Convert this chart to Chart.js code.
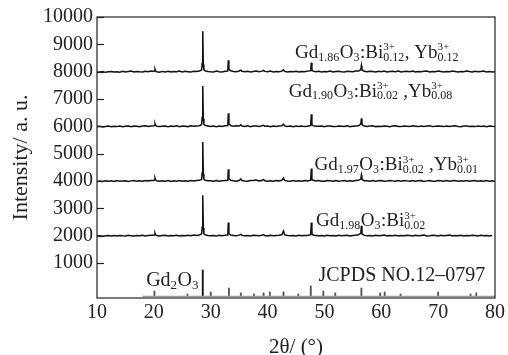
<!DOCTYPE html>
<html>
<head>
<meta charset="utf-8">
<script src="https://cdn.jsdelivr.net/npm/chart.js@4.4.1/dist/chart.umd.min.js"></script>
<style>
  html, body { margin: 0; padding: 0; background: #fff; }
  #wrap { width: 508px; height: 355px; }
</style>
</head>
<body>
<div id="wrap"><canvas id="c" width="508" height="355"></canvas></div>
<script>
// ---------------- DATA ----------------
const twoTheta = [
  10,10.5,11,11.5,12,12.5,13,13.5,14,14.5,15,15.5,16,16.5,17,17.5,18,18.5,19,19.5,20,
  20.1,20.2,20.3,
  20.5,21,21.5,22,22.5,23,23.5,24,24.5,25,25.5,26,26.5,27,27.5,28,
  28.4,28.5,28.6,28.7,28.8,
  29,29.5,30,30.5,31,31.5,32,32.5,33,
  33.1,33.2,
  33.5,34,34.5,35,
  35.3,
  35.5,36,36.5,37,37.5,38,38.5,39,
  39.3,
  39.5,40,40.5,41,41.5,42,42.5,
  42.8,
  43,43.5,44,44.5,45,45.5,46,46.5,47,47.5,
  47.6,47.7,47.8,
  48,48.5,49,49.5,50,50.5,51,51.5,52,52.5,53,53.5,54,54.5,55,55.5,56,
  56.4,56.5,56.6,
  57,57.5,58,58.5,59,59.5,60,60.5,61,61.5,62,62.5,63,63.5,64,64.5,65,65.5,66,66.5,67,67.5,68,68.5,69,69.5,70,70.5,71,71.5,72,72.5,73,73.5,74,74.5,75,75.5,76,76.5,77,77.5,78,78.5,79,79.5,80
];

const gd186 = [
  7975,7990,8005,7975,7995,8010,7985,8000,7980,8015,7990,8005,8020,7985,8010,7995,7990,8015,8000,8025,8005,
  8030,8090,8025,
  8000,7980,8010,7990,8015,7985,8010,7995,8020,7990,8015,8000,7985,8015,8005,8025,
  8060,8300,9480,8260,8070,
  8030,8010,7995,7990,8020,8000,7985,8015,8020,
  8420,8090,
  8030,8010,8000,8025,
  8055,
  8015,7995,8015,7990,8010,8020,7995,8020,
  8045,
  8010,7995,8020,7990,8005,7995,8020,
  8070,
  8010,7990,8010,7995,8015,7985,8010,7995,8020,8030,
  8110,8330,8060,
  8020,7995,8015,7990,8010,7995,8020,7985,8005,8015,7995,7990,8015,8005,7995,8020,8020,
  8070,8220,8060,
  8015,7995,8015,8005,7990,8015,7995,8020,7990,8010,8015,7995,8025,7990,8005,8015,7995,8020,7985,8010,7995,8015,8020,7990,8005,7995,8025,8010,7990,8010,7995,8020,8010,7985,8010,7995,8020,8005,7990,8015,7995,8010,8020,7990,8005,7985,8000
];

const gd190 = [
  5985,6000,5980,5995,6010,5985,6005,5990,6015,5985,6000,6010,5990,6015,6000,5985,6010,6020,5995,6015,6020,
  6040,6095,6030,
  6005,5990,6005,6015,5985,6010,5995,6020,5990,6015,6005,5990,6020,6000,6015,6025,
  6070,6320,7480,6280,6075,
  6035,6015,5995,6015,5990,6010,5995,6020,6025,
  6480,6100,
  6030,6005,6020,6010,
  6055,
  6010,5995,6020,5990,6010,6015,5995,6020,
  6040,
  6005,6015,5990,6010,5995,6015,6025,
  6075,
  6015,5995,6015,5990,6010,5995,6015,5990,6005,6030,
  6120,6440,6070,
  6025,6000,6005,6015,5990,6010,6015,5995,5990,6015,6005,5995,6020,5990,6005,6015,6025,
  6080,6290,6065,
  6010,5995,6010,6020,5990,6005,5995,6015,6005,5985,6010,6020,5995,5990,6015,6005,5995,6020,6005,5990,6015,5995,6010,6020,5990,6000,6015,6005,5990,6015,5995,6010,6020,5995,5985,6010,6015,5995,6005,5990,6015,5995,6010,5990,6015,6000,5990
];

const gd197 = [
  3985,4000,3980,4010,3990,4005,3985,4015,3990,4000,4010,3985,4005,4015,3990,4010,3995,4020,4005,4015,4020,
  4040,4105,4035,
  4010,3990,4010,3995,4015,3985,4010,3995,4015,3990,4010,3995,4015,4000,4020,4025,
  4060,4300,5430,4270,4070,
  4030,4010,4005,3990,4015,3995,4010,4015,4025,
  4430,4090,
  4030,4010,3995,4020,
  4075,
  4015,4000,3995,4015,4020,4035,4005,4015,
  4055,
  4010,3995,4010,3990,4015,4005,4025,
  4110,
  4020,4000,3995,4015,3990,4010,3995,4015,4005,4030,
  4110,4460,4070,
  4025,4000,4015,3995,3990,4015,4005,3995,4020,3990,4005,4015,3995,4010,3990,4015,4025,
  4070,4210,4060,
  4010,4005,3990,4015,3995,4010,4020,3990,4000,4015,4005,3990,4015,3995,4020,4005,3990,4015,3995,4010,4020,3985,4005,4015,3995,3990,4015,4005,3995,4020,3990,4010,4015,3995,4005,3990,4015,3995,4010,4020,3990,4005,3995,4015,3990,4005,3985
];

const gd198 = [
  1985,2000,1980,1995,2010,1990,2005,1985,2010,1995,1990,2015,2000,1985,2010,1995,2015,1990,2005,2015,2015,
  2035,2090,2030,
  2005,1990,2005,2015,1990,2010,1995,2015,1985,2010,1995,2015,2000,2020,2005,2025,
  2060,2310,3480,2280,2070,
  2030,2010,1995,2010,1990,2015,1995,2015,2025,
  2480,2090,
  2025,2010,1995,2020,
  2050,
  2010,1995,2010,1990,2015,2005,1995,2015,
  2040,
  2005,1990,2015,1995,2010,2015,2030,
  2170,
  2030,2010,1995,2010,1990,2015,1995,2010,2010,2030,
  2130,2480,2080,
  2025,2010,1995,2010,1990,2015,1995,2010,1990,2015,1995,2010,2015,1990,2005,2020,2030,
  2090,2360,2070,
  2010,1995,2010,1990,2015,1995,2010,2020,1990,2005,1995,2015,1990,2010,1995,2015,2005,1990,2015,1995,2010,2020,1990,2000,2015,2005,1990,2015,1995,2010,2020,1990,2005,1995,2015,1990,2010,1995,2015,2005,1990,2015,1995,2010,1990,2005,null
];

// JCPDS NO.12-0797 reference lines (position, top of line)
const jcpdsPos = [20.1,25.9,28.6,30.0,33.2,35.3,37.6,39.3,40.4,42.8,45.4,47.6,49.8,51.9,56.5,59.8,60.6,63.4,70.0,75.7,76.7];
const jcpdsTop = [-25,-135,745,-60,85,-95,-135,-95,-60,-60,-135,160,-25,-95,85,-95,-60,-135,-60,-135,-95];
const jcpdsBase = -220;
const jcpdsRange = [18, 80];

const xTicks = [10,20,30,40,50,60,70,80];
const yTicks = [1000,2000,3000,4000,5000,6000,7000,8000,9000,10000];

// ---------------- STYLE / LAYOUT ----------------
const FAM = "'Liberation Serif', 'Times New Roman', 'DejaVu Serif', serif";
const TXT = '#222';

const labels = [
  { x: 44.83, y: 8498, main: 19, tokens: [{t:'Gd'},{sub:'1.86'},{t:'O'},{sub:'3'},{t:':Bi'},{sup:'3+',sub:'0.12'},{t:', Yb'},{sup:'3+',sub:'0.12'}] },
  { x: 43.73, y: 7088, main: 19, tokens: [{t:'Gd'},{sub:'1.90'},{t:'O'},{sub:'3'},{t:':Bi'},{sup:'3+',sub:'0.02'},{t:' ,Yb'},{sup:'3+',sub:'0.08'}] },
  { x: 48.26, y: 4397, main: 19, tokens: [{t:'Gd'},{sub:'1.97'},{t:'O'},{sub:'3'},{t:':Bi'},{sup:'3+',sub:'0.02'},{t:' ,Yb'},{sup:'3+',sub:'0.01'}] },
  { x: 48.53, y: 2346, main: 19, tokens: [{t:'Gd'},{sub:'1.98'},{t:'O'},{sub:'3'},{t:':Bi'},{sup:'3+',sub:'0.02'}] },
  { x: 18.65, y: 148, main: 20, tokens: [{t:'Gd'},{sub:'2'},{t:'O'},{sub:'3'}] },
  { x: 48.95, y: 331, main: 20, tokens: [{t:'JCPDS NO.12\u20130797'}] }
];

function drawRich(ctx, x, y, tokens, main) {
  const subSize = Math.round(main * 0.63), supSize = Math.round(main * 0.58);
  let cx = x;
  ctx.textBaseline = 'alphabetic';
  ctx.textAlign = 'left';
  for (const tk of tokens) {
    if (tk.t !== undefined) {
      ctx.font = main + 'px ' + FAM;
      ctx.fillText(tk.t, cx, y);
      cx += ctx.measureText(tk.t).width;
    } else {
      let w = 0;
      if (tk.sup) {
        ctx.font = supSize + 'px ' + FAM;
        ctx.fillText(tk.sup, cx, y - main * 0.4);
        w = Math.max(w, ctx.measureText(tk.sup).width);
      }
      if (tk.sub) {
        ctx.font = subSize + 'px ' + FAM;
        ctx.fillText(tk.sub, cx, y + main * 0.15);
        w = Math.max(w, ctx.measureText(tk.sub).width);
      }
      cx += w + 0.5;
    }
  }
}

const decor = {
  id: 'decor',
  afterDraw(chart) {
    const { ctx, chartArea: a, scales } = chart;
    ctx.save();
    ctx.strokeStyle = '#222';
    ctx.lineWidth = 1.2;
    ctx.strokeRect(a.left, a.top, a.right - a.left, a.bottom - a.top);
    for (const v of yTicks) {
      const py = Math.round(scales.y.getPixelForValue(v)) + 0.5;
      ctx.beginPath();
      ctx.moveTo(a.left, py);
      ctx.lineTo(a.left + 7, py);
      ctx.stroke();
    }
    ctx.fillStyle = TXT;
    for (const L of labels) {
      drawRich(ctx, scales.x.getPixelForValue(L.x), scales.y.getPixelForValue(L.y), L.tokens, L.main);
    }
    ctx.restore();
  }
};

const series = [gd186, gd190, gd197, gd198];
const lineDatasets = series.map(s => ({
  type: 'line',
  data: twoTheta.map((x, i) => ({ x: x, y: s[i] })),
  borderColor: '#111',
  borderWidth: 1.5,
  pointRadius: 0,
  tension: 0,
  spanGaps: false
}));

new Chart(document.getElementById('c'), {
  type: 'line',
  data: {
    datasets: [
      ...lineDatasets,
      {
        type: 'line',
        data: jcpdsRange.map(x => ({ x: x, y: jcpdsBase })),
        borderColor: '#9a9a9a',
        borderWidth: 1.2,
        pointRadius: 0
      },
      {
        type: 'bar',
        data: jcpdsPos.map((x, i) => ({ x: x, y: [jcpdsBase, jcpdsTop[i]] })),
        backgroundColor: c => (c.raw && c.raw.y[1] > 500 ? '#111' : '#555'),
        barThickness: 1.2,
        borderWidth: 0
      }
    ]
  },
  options: {
    responsive: false,
    animation: false,
    devicePixelRatio: 1,
    layout: { padding: { left: 0, right: 9, top: 17, bottom: 0 } },
    plugins: { legend: { display: false }, tooltip: { enabled: false } },
    scales: {
      x: {
        type: 'linear',
        min: 10, max: 80,
        offset: false,
        grid: { display: false, drawTicks: false, offset: false },
        border: { display: false },
        afterBuildTicks: sc => { sc.ticks = xTicks.map(v => ({ value: v })); },
        afterFit: sc => { sc.height = 57; },
        ticks: { color: TXT, padding: 3, font: { family: FAM, size: 20 }, maxRotation: 0, autoSkip: false, callback: v => String(v) },
        title: { display: true, text: '2\u03b8/ (\u00b0)', color: TXT, padding: 0, font: { family: FAM, size: 21, lineHeight: '16px' } }
      },
      y: {
        type: 'linear',
        min: -280, max: 10000,
        grid: { display: false, drawTicks: false },
        border: { display: false },
        afterBuildTicks: sc => { sc.ticks = yTicks.map(v => ({ value: v })); },
        afterFit: sc => { sc.width = 97; },
        ticks: { color: TXT, padding: 4, font: { family: FAM, size: 20 }, callback: v => String(v) },
        title: { display: true, text: 'Intensity/ a. u.', color: TXT, padding: { top: 9, bottom: 0 }, font: { family: FAM, size: 22, lineHeight: '24px' } }
      }
    }
  },
  plugins: [decor]
});
</script>
</body>
</html>
